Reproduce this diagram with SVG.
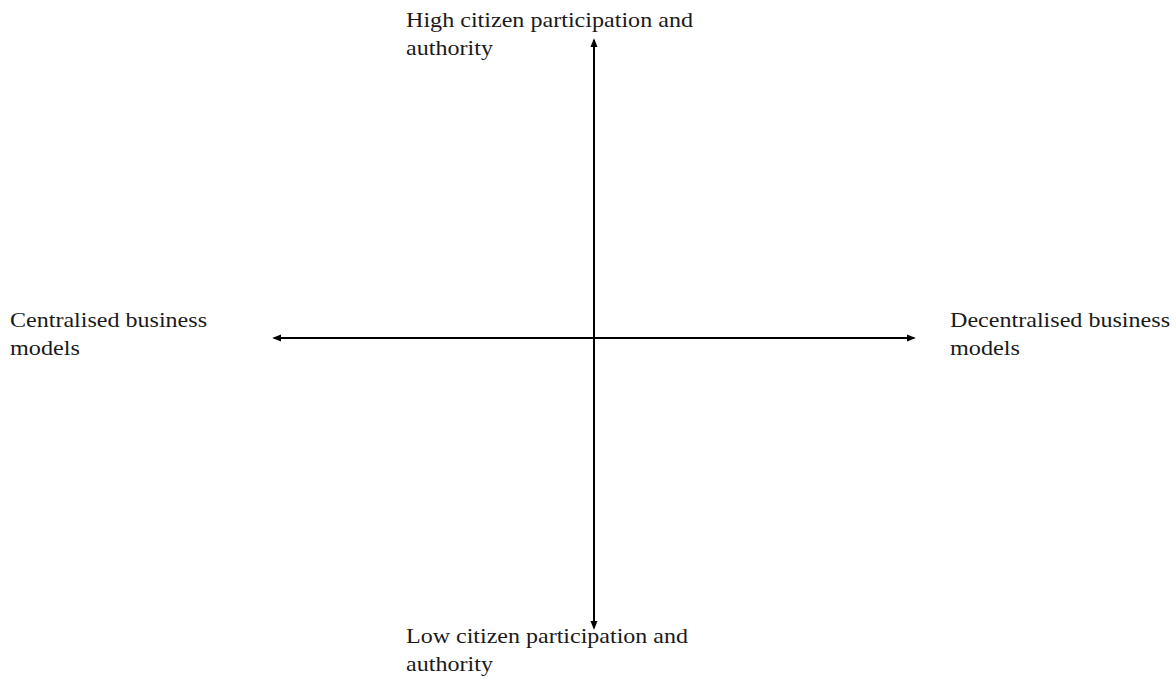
<svg xmlns="http://www.w3.org/2000/svg" width="1176" height="679" viewBox="0 0 1176 679">
<style>
text{font-family:"Liberation Serif","Times New Roman",serif;font-size:22px;fill:#1a1a1a}
.ax{stroke:#000;stroke-width:2;fill:none}
</style>
<defs>
<marker id="ah" viewBox="0 0 10 10" refX="8" refY="5" markerWidth="9" markerHeight="9" orient="auto-start-reverse" markerUnits="userSpaceOnUse">
<path d="M0,1 L10,5 L0,9 Z" fill="#000"/>
</marker>
</defs>
<rect width="1176" height="679" fill="#fff"/>
<g id="connectors">
<line class="ax" x1="594" y1="628" x2="594" y2="40" marker-start="url(#ah)" marker-end="url(#ah)"/>
<line class="ax" x1="274" y1="338" x2="914" y2="338" marker-start="url(#ah)" marker-end="url(#ah)"/>
</g>
<g id="top">
<text x="406" y="27" textLength="287" lengthAdjust="spacingAndGlyphs">High citizen participation and</text>
<text x="406" y="55" textLength="87" lengthAdjust="spacingAndGlyphs">authority</text>
</g>
<g id="left">
<text x="10" y="327" textLength="197" lengthAdjust="spacingAndGlyphs">Centralised business</text>
<text x="10" y="355" textLength="70" lengthAdjust="spacingAndGlyphs">models</text>
</g>
<g id="right">
<text x="950" y="327" textLength="220" lengthAdjust="spacingAndGlyphs">Decentralised business</text>
<text x="950" y="355" textLength="70" lengthAdjust="spacingAndGlyphs">models</text>
</g>
<g id="bottom">
<text x="406" y="643" textLength="282" lengthAdjust="spacingAndGlyphs">Low citizen participation and</text>
<text x="406" y="671" textLength="87" lengthAdjust="spacingAndGlyphs">authority</text>
</g>
</svg>
